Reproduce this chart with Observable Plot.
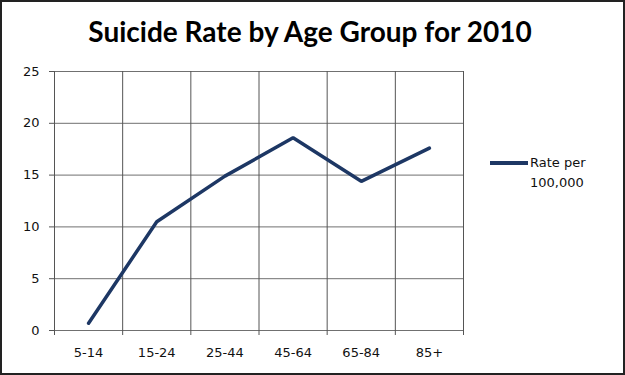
<!DOCTYPE html>
<html>
<head>
<meta charset="utf-8">
<script src="https://cdn.jsdelivr.net/npm/d3@7"></script>
<script src="https://cdn.jsdelivr.net/npm/@observablehq/plot@0.6"></script>
<style>
  body { margin: 0; background: #fff; }
  #wrap { position: relative; width: 625px; height: 375px; overflow: hidden; background: #fff; }
  #wrap svg { position: absolute; left: 0; top: 0; }
  #title { position: absolute; left: 0; top: 16px; width: 620px; text-align: center;
           font-family: Lato, "Open Sans", sans-serif; font-weight: bold; font-size: 28px; color: #000; line-height: 30px; }
  #legend { position: absolute; left: 490px; top: 153px; font-family: "DejaVu Sans", Verdana, sans-serif;
            font-size: 13px; color: #111; line-height: 20px; }
  #legend .sw { position: absolute; left: 0; top: 8px; width: 38px; height: 3.5px; background: #1d3764; }
  #legend .lbl { position: absolute; left: 40px; top: 0; white-space: nowrap; }
  #frame { position: absolute; left: 0; top: 0; width: 625px; height: 375px; box-sizing: border-box;
           border: 2px solid #222; pointer-events: none; }
</style>
</head>
<body>
<div id="wrap">
  <div id="title"></div>
  <div id="legend"><div class="sw"></div><div class="lbl"></div></div>
  <div id="frame"></div>
</div>
<script>
const titleText = "Suicide Rate by Age Group for 2010";
const categories = ["5-14", "15-24", "25-44", "45-64", "65-84", "85+"];
const rates = [0.7, 10.5, 14.9, 18.6, 14.4, 17.6];
const yTicks = [0, 5, 10, 15, 20, 25];
const seriesName = ["Rate per", "100,000"];

const idx = categories.map((d, i) => i);
const bounds = idx.map(i => i - 0.5).concat([categories.length - 0.5]);
const data = categories.map((c, i) => ({i, c, v: rates[i]}));

document.getElementById("title").textContent = titleText;
document.querySelector("#legend .lbl").innerHTML = seriesName.join("<br>");

const chart = Plot.plot({
  width: 625,
  height: 375,
  marginLeft: 54,
  marginRight: 162,
  marginTop: 71,
  marginBottom: 45,
  style: {fontFamily: "DejaVu Sans, Verdana, sans-serif", fontSize: "13px", color: "#111", background: "transparent"},
  x: {domain: [-0.5, categories.length - 0.5]},
  y: {domain: [0, 25]},
  marks: [
    Plot.ruleY(yTicks, {stroke: "#707070", strokeWidth: 1}),
    Plot.ruleX(bounds, {stroke: "#555", strokeWidth: 1}),
    Plot.axisY({ticks: yTicks, tickSize: 5, tickPadding: 10, label: null, stroke: "#555"}),
    Plot.axisX({ticks: bounds, tickSize: 5, tickFormat: () => "", label: null, stroke: "#555"}),
    Plot.axisX({ticks: idx, tickSize: 0, tickPadding: 17, tickFormat: i => categories[i], label: null}),
    Plot.line(data, {x: "i", y: "v", stroke: "#1d3764", strokeWidth: 3.5, strokeLinejoin: "miter", strokeLinecap: "round"})
  ]
});
document.getElementById("wrap").insertBefore(chart, document.getElementById("title"));
</script>
</body>
</html>
